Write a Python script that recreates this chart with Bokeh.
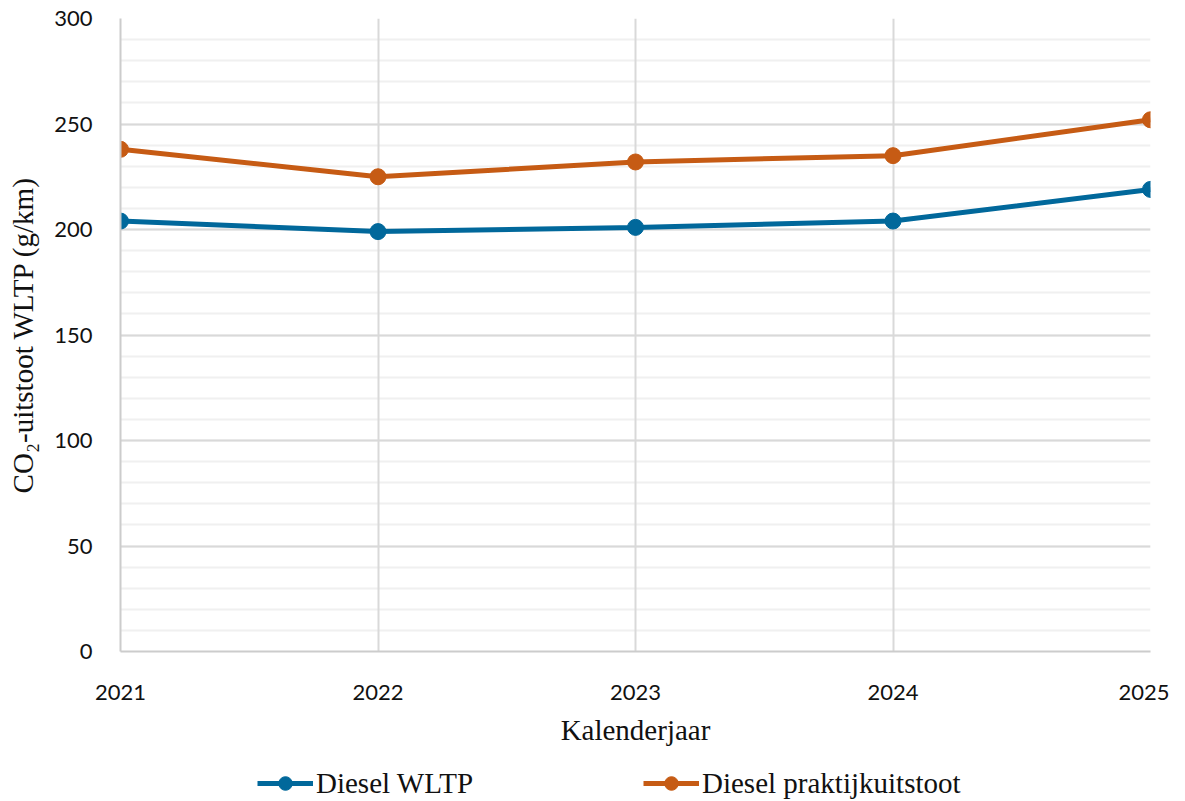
from bokeh.plotting import figure
from bokeh.layouts import column
from bokeh.models import Range1d, Legend, LegendItem, FixedTicker
from bokeh.embed import file_html
from bokeh.resources import INLINE

years = [2021, 2022, 2023, 2024, 2025]
diesel_wltp = [204, 199, 201, 204, 219]
diesel_praktijk = [238, 225, 232, 235, 252]
y_ticks = [0, 50, 100, 150, 200, 250, 300]
y_minor = list(range(0, 301, 10))

BLUE = "#01689B"
ORANGE = "#C65B14"
SERIF = "Liberation Serif"
SANS = "Lato"

p = figure(width=1169, height=761,
           output_backend="svg", toolbar_location=None,
           x_range=Range1d(2021, 2025), y_range=Range1d(0, 300),
           min_border_left=120, min_border_right=19, min_border_top=18, min_border_bottom=110)
p.outline_line_color = None
p.background_fill_color = "white"

p.line(years, diesel_wltp, line_color=BLUE, line_width=5)
p.scatter(years, diesel_wltp, size=16, fill_color=BLUE, line_color=BLUE)
p.line(years, diesel_praktijk, line_color=ORANGE, line_width=5)
p.scatter(years, diesel_praktijk, size=16, fill_color=ORANGE, line_color=ORANGE)

p.xaxis.ticker = FixedTicker(ticks=years)
p.yaxis.ticker = FixedTicker(ticks=y_ticks, minor_ticks=y_minor)
p.xgrid.ticker = FixedTicker(ticks=years)

for ax in (p.xaxis[0], p.yaxis[0]):
    ax.axis_line_color = "#cccccc"
    ax.axis_line_width = 2
    ax.major_tick_line_color = None
    ax.minor_tick_line_color = None
    ax.major_label_text_font = SANS
    ax.major_label_text_font_size = "22px"
    ax.major_label_text_color = "#111111"
    ax.axis_label_text_font = SERIF
    ax.axis_label_text_font_size = "29px"
    ax.axis_label_text_font_style = "normal"
    ax.axis_label_text_color = "#111111"

p.xaxis.major_label_standoff = 27
p.yaxis.major_label_standoff = 22
p.xaxis.axis_label = "Kalenderjaar"
p.yaxis.axis_label = "CO\u2082-uitstoot WLTP (g/km)"
p.xaxis.axis_label_standoff = 11
p.yaxis.axis_label_standoff = 12

p.xgrid.grid_line_color = "#d9d9d9"
p.xgrid.grid_line_width = 2
p.ygrid.grid_line_color = "#d9d9d9"
p.ygrid.grid_line_width = 2
p.ygrid.minor_grid_line_color = "#f0f0f0"
p.ygrid.minor_grid_line_width = 2
p.center = [p.ygrid[0], p.xgrid[0]]

# legend strip below the chart (same series, hidden, only used for legend glyphs)
lg = figure(width=1169, height=40, output_backend="svg", toolbar_location=None,
            x_range=Range1d(2021, 2025), y_range=Range1d(0, 300),
            min_border_left=0, min_border_right=0, min_border_top=0, min_border_bottom=0)
lg.axis.visible = False
lg.grid.visible = False
lg.outline_line_color = None
l1 = lg.line(years, diesel_wltp, line_color=BLUE, line_width=5, visible=False)
s1 = lg.scatter(years, diesel_wltp, size=16, fill_color=BLUE, line_color=BLUE, visible=False)
l2 = lg.line(years, diesel_praktijk, line_color=ORANGE, line_width=5, visible=False)
s2 = lg.scatter(years, diesel_praktijk, size=16, fill_color=ORANGE, line_color=ORANGE, visible=False)

common = dict(orientation="horizontal", label_text_font=SERIF, label_text_font_size="29px",
              label_text_color="#111111", glyph_width=56, glyph_height=34, label_standoff=3,
              border_line_color=None, background_fill_alpha=0, padding=0, margin=0)
leg1 = Legend(items=[LegendItem(label="Diesel WLTP", renderers=[l1, s1])],
              location=(137, 1), **common)
leg2 = Legend(items=[LegendItem(label="Diesel praktijkuitstoot", renderers=[l2, s2])],
              location=(523, 1), **common)
lg.add_layout(leg1, "center")
lg.add_layout(leg2, "center")

layout = column(p, lg, spacing=0)
open("out.html", "w").write(file_html(layout, INLINE))
